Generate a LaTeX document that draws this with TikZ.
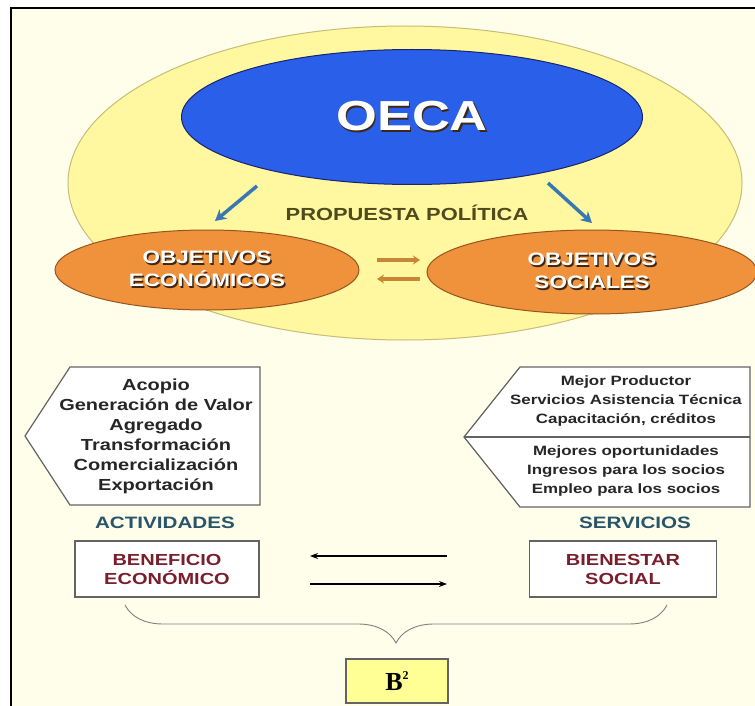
\documentclass[tikz,border=0pt]{standalone}
\usepackage{fontspec}
\setmainfont{Liberation Sans}[FakeStretch=1.25]
\newfontfamily\timesf{Liberation Serif}
\usetikzlibrary{shapes,arrows.meta,decorations.pathreplacing}

\definecolor{paper}{RGB}{255,254,234}
\definecolor{yel}{RGB}{255,248,160}
\definecolor{yelline}{RGB}{200,188,120}
\definecolor{blu}{RGB}{42,95,234}
\definecolor{navy}{RGB}{25,35,110}
\definecolor{org}{RGB}{240,145,60}
\definecolor{brn}{RGB}{150,85,30}
\definecolor{shade}{RGB}{60,40,25}
\definecolor{olive}{RGB}{80,75,30}
\definecolor{teal}{RGB}{40,85,105}
\definecolor{maroon}{RGB}{120,30,45}
\definecolor{boxline}{RGB}{100,100,100}
\definecolor{arrblue}{RGB}{55,120,180}
\definecolor{arrorg}{RGB}{200,135,55}
\definecolor{bbox}{RGB}{255,255,150}

\newcommand{\shd}[1]{\leavevmode\rlap{\kern1.5pt\raisebox{-1.5pt}{\textcolor{shade}{#1}}}#1}

\begin{document}
\begin{tikzpicture}
  [x=1pt,y=-1pt,every node/.style={inner sep=0pt,align=center}]
  \tikzstyle{oval}=[ellipse,draw,line width=1pt]
  \tikzstyle{box}=[draw=boxline,fill=white,line width=1.2pt,minimum width=184pt,minimum height=56pt,
    text=maroon,font=\bfseries\fontsize{16}{19}\selectfont]
  \tikzstyle{lst}=[text=black!85,font=\bfseries\fontsize{16}{20}\selectfont]
  \tikzstyle{slst}=[text=black!85,font=\bfseries\fontsize{13.5}{19}\selectfont]
  \tikzstyle{head}=[text=teal,font=\bfseries\fontsize{16.5}{20}\selectfont]
  \useasboundingbox (0,0) rectangle (755,706);
  \fill[paper] (11,8) rectangle (755,706);
  \draw[line width=2pt] (11,706) -- (11,8) -- (755,8);

  % top: propuesta politica
  \node[oval,draw=yelline,fill=yel,minimum width=674pt,minimum height=314pt] (pol) at (405,183) {};
  \node[oval,draw=navy,fill=blu,minimum width=461pt,minimum height=135pt,text=white,
    font=\bfseries\fontsize{42}{42}\selectfont] (oeca) at (412,117) {\shd{OECA}};
  \node[text=olive,font=\bfseries\fontsize{17.5}{20}\selectfont] (prop) at (407,213) {PROPUESTA POLÍTICA};
  \node[oval,draw=brn,fill=org,minimum width=304pt,minimum height=80pt,text=white,
    font=\bfseries\fontsize{18}{23}\selectfont] (eco) at (207,270) {\shd{OBJETIVOS}\\\shd{ECONÓMICOS}};
  \node[oval,draw=brn,fill=org,minimum width=330pt,minimum height=84pt,text=white,
    font=\bfseries\fontsize{18}{23}\selectfont] (soc) at (592,272) {\shd{OBJETIVOS}\\\shd{SOCIALES}};

  \coordinate (a1) at (257,186); \coordinate (a2) at (215,221);
  \coordinate (b1) at (548,183); \coordinate (b2) at (592,223);
  \draw[arrblue,line width=3.5pt,-{Stealth[length=11pt,width=12pt]}] (a1) -- (a2);
  \draw[arrblue,line width=3.5pt,-{Stealth[length=11pt,width=12pt]}] (b1) -- (b2);
  \coordinate (c1) at (377,260); \coordinate (c2) at (420,260);
  \coordinate (d1) at (420,279); \coordinate (d2) at (377,279);
  \draw[arrorg,line width=3.5pt,-{Stealth[length=7pt,width=9pt]}] (c1) -- (c2);
  \draw[arrorg,line width=3.5pt,-{Stealth[length=7pt,width=9pt]}] (d1) -- (d2);

  % bottom: actividades y servicios
  \draw[boxline,fill=white,line width=1.2pt] (25,436) -- (70,367) -- (260,367) -- (260,505) -- (70,505) -- cycle;
  \node[lst] (acts) at (156,436) {Acopio\\Generación de Valor\\Agregado\\Transformación\\Comercialización\\Exportación};
  \draw[boxline,fill=white,line width=1.2pt] (464,437) -- (520,367) -- (750,367) -- (750,507) -- (520,507) -- cycle;
  \draw[boxline,line width=1.2pt] (464,437) -- (750,437);
  \node[slst] (serv1) at (626,401) {Mejor Productor\\Servicios Asistencia Técnica\\Capacitación, créditos};
  \node[slst] (serv2) at (626,471) {Mejores oportunidades\\Ingresos para los socios\\Empleo para los socios};
  \node[head] (act) at (165,523) {ACTIVIDADES};
  \node[head] (serv) at (635,523) {SERVICIOS};
  \node[box] (benef) at (167,569) {BENEFICIO\\ECONÓMICO};
  \node[box,minimum width=187pt] (bien) at (623,569) {BIENESTAR\\SOCIAL};

  \coordinate (e1) at (447,556); \coordinate (e2) at (310,556);
  \coordinate (f1) at (310,584); \coordinate (f2) at (447,584);
  \draw[line width=1.3pt,-{Stealth[length=8pt,width=6pt]}] (e1) -- (e2);
  \draw[line width=1.3pt,-{Stealth[length=8pt,width=6pt]}] (f1) -- (f2);

  \draw[gray,line width=0.9pt,decorate,decoration={brace,mirror,amplitude=38pt,aspect=0.5}] (125,605) -- (667,605);
  \node[draw=boxline,fill=bbox,line width=1.2pt,minimum width=102pt,minimum height=44pt,
    font=\timesf\bfseries\fontsize{26}{26}\selectfont] (bb) at (397,681) {B\raisebox{11pt}{\fontsize{12}{12}\selectfont 2}};
\end{tikzpicture}
\end{document}
